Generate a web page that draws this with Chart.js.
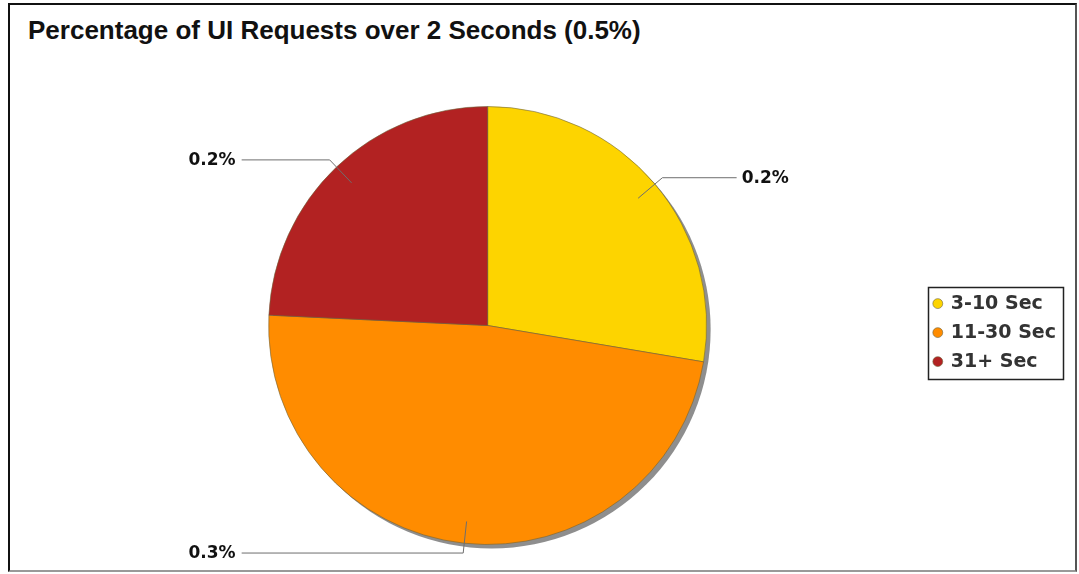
<!DOCTYPE html>
<html>
<head>
<meta charset="utf-8">
<script src="https://cdn.jsdelivr.net/npm/chart.js@4/dist/chart.umd.min.js"></script>
<style>
    body { margin: 0; background: #fff; }
    #frame {
        position: absolute; left: 8px; top: 3px; width: 1069px; height: 569px;
        box-sizing: border-box;
        border-top: 2px solid #111; border-left: 2px solid #111;
        border-right: 2px solid #555; border-bottom: 2px solid #999;
    }
    #title {
        position: absolute; left: 28px; top: 17px;
        font: bold 26px "Liberation Sans", Arial, sans-serif; line-height: 26px;
        color: #111; white-space: nowrap;
    }
    #wrap { position: absolute; left: 0; top: 0; width: 1079px; height: 574px; }
</style>
</head>
<body>
<div id="frame"></div>
<div id="title">Percentage of UI Requests over 2 Seconds (0.5%)</div>
<div id="wrap"><canvas id="pieChart"></canvas></div>
<script>
const categories = ['3-10 Sec', '11-30 Sec', '31+ Sec'];
const shares = [0.138, 0.240, 0.121];
const sliceLabels = ['0.2%', '0.3%', '0.2%'];
const sliceColors = ['#FDD400', '#FF8C00', '#B22222'];

const PIE_RADIUS = 219;

// grey drop shadow under the pie
const shadowPlugin = {
    id: 'pieShadow',
    beforeDatasetsDraw(chart) {
        const arc = chart.getDatasetMeta(0).data[0];
        if (!arc) return;
        const { x, y, outerRadius } = arc.getProps(['x', 'y', 'outerRadius'], true);
        const ctx = chart.ctx;
        ctx.save();
        ctx.fillStyle = '#8e8e8e';
        ctx.beginPath();
        ctx.arc(x + 4, y + 4, outerRadius, 0, Math.PI * 2);
        ctx.fill();
        ctx.restore();
    }
};

// leader lines + value labels
const leaderPlugin = {
    id: 'leaders',
    afterDatasetsDraw(chart) {
        const ctx = chart.ctx;
        const meta = chart.getDatasetMeta(0);
        ctx.save();
        ctx.strokeStyle = '#6e6e6e';
        ctx.lineWidth = 1;
        ctx.fillStyle = '#111';
        ctx.font = 'bold 17px "DejaVu Sans", sans-serif';
        ctx.textBaseline = 'middle';
        meta.data.forEach((arc, i) => {
            const p = arc.getProps(['x', 'y', 'startAngle', 'endAngle', 'outerRadius'], true);
            const mid = (p.startAngle + p.endAngle) / 2;
            const r = p.outerRadius;
            const cos = Math.cos(mid), sin = Math.sin(mid);
            const x1 = p.x + cos * r * 0.9, y1 = p.y + sin * r * 0.9;
            const x2 = p.x + cos * r * 1.045, y2 = p.y + sin * r * 1.045;
            const right = cos >= 0;
            const x3 = right ? p.x + r + 30 : p.x - r - 27;
            ctx.beginPath();
            ctx.moveTo(x1, y1);
            ctx.lineTo(x2, y2);
            ctx.lineTo(x3, y2);
            ctx.stroke();
            ctx.textAlign = right ? 'left' : 'right';
            ctx.fillText(sliceLabels[i], right ? x3 + 5 : x3 - 6, y2 + 1);
        });
        ctx.restore();
    }
};

// box around the legend
const legendBoxPlugin = {
    id: 'legendBox',
    afterDraw(chart) {
        const boxes = chart.legend.legendHitBoxes;
        if (!boxes || !boxes.length) return;
        const left = Math.min(...boxes.map(b => b.left)) - 6;
        const right = Math.max(...boxes.map(b => b.left + b.width)) + 7;
        const top = boxes[0].top - 7;
        const bottom = boxes[boxes.length - 1].top + boxes[boxes.length - 1].height + 8;
        const ctx = chart.ctx;
        ctx.save();
        ctx.strokeStyle = '#222';
        ctx.lineWidth = 1.5;
        ctx.strokeRect(Math.round(left) + 0.5, Math.round(top) + 0.5, Math.round(right - left), Math.round(bottom - top));
        ctx.restore();
    }
};

new Chart(document.getElementById('pieChart'), {
    type: 'pie',
    data: {
        labels: categories,
        datasets: [{
            data: shares,
            backgroundColor: sliceColors,
            borderColor: 'rgba(110, 100, 60, 0.6)',
            borderWidth: 1,
            radius: PIE_RADIUS
        }]
    },
    options: {
        responsive: true,
        maintainAspectRatio: false,
        animation: false,
        layout: { padding: { top: 77, bottom: 0, left: 51, right: 13 } },
        plugins: {
            legend: {
                position: 'right',
                // empty title only pushes the items down a little
                title: { display: true, text: '', padding: { top: 13, bottom: 0 }, font: { size: 1 } },
                labels: {
                    usePointStyle: true,
                    pointStyle: 'circle',
                    boxWidth: 7,
                    boxHeight: 7,
                    padding: 10,
                    color: '#333',
                    font: { family: 'DejaVu Sans', size: 19, weight: 'bold' }
                }
            },
            tooltip: { enabled: false }
        }
    },
    plugins: [shadowPlugin, leaderPlugin, legendBoxPlugin]
});
</script>
</body>
</html>
